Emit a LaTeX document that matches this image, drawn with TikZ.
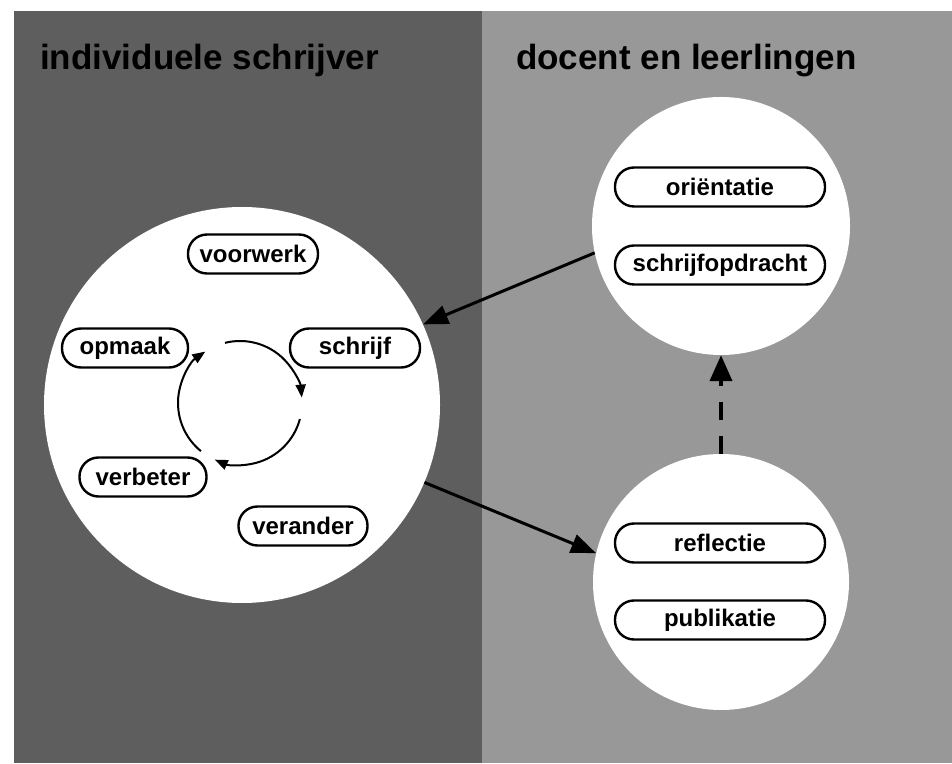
\documentclass[tikz,border=0pt]{standalone}
\usepackage{fontspec}
\setmainfont{Liberation Sans}
\usetikzlibrary{arrows.meta}
\definecolor{leftbg}{RGB}{94,94,94}
\definecolor{rightbg}{RGB}{152,152,152}
\tikzset{
  panel/.style={draw=none,inner sep=0pt,outer sep=0pt,anchor=south west},
  disc/.style={circle,fill=white,draw=none,inner sep=0pt},
  pill/.style={draw=black,line width=2.4pt,fill=white,rounded corners=19pt,
    minimum height=39pt,inner sep=0pt,
    font=\fontsize{24}{27}\selectfont\bfseries},
  title/.style={anchor=base west,inner sep=0pt,
    font=\fontsize{35}{40}\selectfont\bfseries},
  link/.style={line width=3pt,-{Triangle[length=25pt,width=19pt]}},
  cyc/.style={line width=2pt,-{Triangle[length=13pt,width=10pt]}},
  dlink/.style={line width=4pt,dash pattern=on 18pt off 16pt,
    -{Triangle[length=26pt,width=22pt]}}
}
\begin{document}
\begin{tikzpicture}[x=1pt,y=1pt]
\useasboundingbox (0,0) rectangle (952,763);
\fill[white] (0,0) rectangle (952,763);
\node[panel,fill=leftbg,minimum width=468pt,minimum height=752pt] (lp) at (14,0) {};
\node[panel,fill=rightbg,minimum width=470pt,minimum height=752pt] (rp) at (482,0) {};
\node[title] (t1) at (40,693) {individuele schrijver};
\node[title] (t2) at (516,693) {docent en leerlingen};

\node[disc,minimum size=396pt] (L) at (242,358) {};
\node[disc,minimum size=258pt] (T) at (721,537) {};
\node[disc,minimum size=256pt] (B) at (721,181) {};

\node[pill,minimum width=130pt] (voorwerk) at (253,509) {voorwerk};
\node[pill,minimum width=126pt] (opmaak) at (125,415) {opmaak};
\node[pill,minimum width=130pt] (schrijf) at (355,415) {schrijf};
\node[pill,minimum width=127pt] (verbeter) at (143,286) {verbeter};
\node[pill,minimum width=129pt] (verander) at (303,237) {verander};

\node[pill,minimum width=210pt] (orient) at (720,576) {oriëntatie};
\node[pill,minimum width=210pt] (opdr) at (720,498) {schrijfopdracht};
\node[pill,minimum width=210pt] (refl) at (720,220) {reflectie};
\node[pill,minimum width=210pt] (publ) at (720,143) {publikatie};

\coordinate (C) at (240,360);
\draw[cyc] ([shift={(104:62)}]C) arc[start angle=104,end angle=5,radius=62];
\draw[cyc] ([shift={(-15:62)}]C) arc[start angle=-15,end angle=-114,radius=62];
\draw[cyc] ([shift={(231:62)}]C) arc[start angle=231,end angle=124,radius=62];

\draw[link] (T.192) -- (L.24);
\draw[link] (L.-23) -- (B.167);
\draw[dlink] (B.north) -- (T.south);
\end{tikzpicture}
\end{document}
